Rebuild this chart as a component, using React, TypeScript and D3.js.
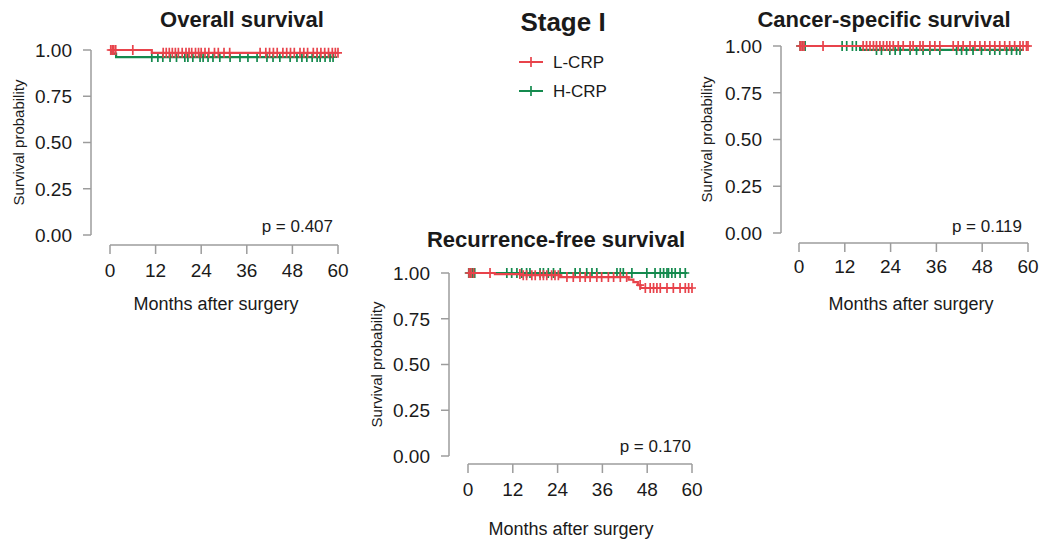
import React from "react";
import * as d3 from "d3";

// ---- groups and axes ----
const groupNames = ["L-CRP", "H-CRP"];
const groupColors = ["#E8434B", "#148A4E"];
const monthTicks = [0, 12, 24, 36, 48, 60];
const probTicks = [0, 0.25, 0.5, 0.75, 1];

// ---- Overall survival ----
const osLowSteps: [number, number][] = [[0, 1], [11, 0.985]];
const osLowEnd = 60;
const osLowCensor = [0.2, 0.6, 1.0, 1.5, 6.0, 14, 14.8, 15.6, 16.4, 17.2, 18, 19, 20, 20.8, 21.5, 22.5, 23.3, 24, 25, 26, 27.5, 28.5, 30, 31.5, 39.5, 41, 42, 43, 44, 45.5, 46.5, 47.5, 48.5, 50, 51, 52, 53.5, 54.5, 55.5, 56.5, 57.5, 58.5, 59.3, 60];
const osHighSteps: [number, number][] = [[0, 1], [0.6, 0.98], [1.6, 0.962]];
const osHighEnd = 58.7;
const osHighCensor = [11, 12.6, 13.9, 15.8, 17.5, 19.7, 20.5, 21.8, 23.7, 24.5, 25.8, 27.1, 28.9, 31.6, 34.2, 36.3, 38.7, 41.3, 42.9, 44.7, 47.4, 49.2, 50.5, 51.8, 53.2, 54.5, 55.3, 56.6, 57.9, 58.7];
const osPValue = "p = 0.407";

// ---- Recurrence-free survival ----
const rfsLowSteps: [number, number][] = [[0, 1], [7.2, 0.994], [14.5, 0.988], [24.7, 0.978], [43, 0.964], [44.3, 0.95], [45.5, 0.934], [46.2, 0.918]];
const rfsLowEnd = 60;
const rfsLowCensor = [0.3, 0.8, 1.5, 5.9, 13.9, 14.8, 15.7, 17.1, 18, 19.3, 20.2, 21.1, 22.4, 23.3, 24.2, 26.5, 28.2, 30, 31.4, 32.7, 34.5, 35.8, 37.6, 39, 40.8, 42.5, 46.1, 47.5, 48.8, 49.7, 50.6, 51.5, 53.3, 55, 56.8, 58.2, 59.1, 60];
const rfsHighSteps: [number, number][] = [[0, 1]];
const rfsHighEnd = 58.7;
const rfsHighCensor = [0.2, 0.7, 1.2, 1.8, 10.4, 11.7, 13.1, 14.4, 15.7, 16.6, 19.3, 20.2, 21.5, 22.9, 24.7, 28.7, 30, 31.8, 33.2, 34.5, 39.9, 40.8, 41.6, 43.9, 47.9, 50.1, 51.5, 52.4, 53.3, 53.7, 54.6, 55.5, 56.8, 58.2];
const rfsPValue = "p = 0.170";

// ---- Cancer-specific survival ----
const cssLowSteps: [number, number][] = [[0, 1]];
const cssLowEnd = 60;
const cssLowCensor = [0.3, 0.8, 1.3, 6.3, 16.8, 17.7, 18.6, 19.5, 20.3, 21.2, 22.1, 23, 23.8, 24.7, 26, 27.3, 29.1, 29.9, 31.7, 32.5, 34.3, 35.6, 36.9, 40.4, 41.7, 43, 44.8, 46.1, 47.4, 48.7, 50, 51.3, 52.6, 53.9, 55.2, 56.5, 57.9, 58.7, 59.6, 60];
const cssHighSteps: [number, number][] = [[0, 1], [16, 0.979]];
const cssHighEnd = 58.5;
const cssHighCensor = [0.3, 0.9, 1.6, 11.3, 12.5, 14, 15, 20.3, 21.6, 23.8, 25.2, 26.5, 29.1, 30.8, 32.5, 34.3, 36.9, 41.3, 42.6, 43.9, 45.6, 47.8, 50, 51.3, 52.6, 54.4, 55.7, 57, 57.9];
const cssPValue = "p = 0.119";

type Curve = { steps: [number, number][]; end: number; censor: number[] };

interface PanelLayout {
  title: string;
  pValue: string;
  curves: Curve[];
  xRange: [number, number];
  yRange: [number, number];
  axisX: number;
  axisY: number;
  titleX: number;
  titleY: number;
  tickLabelY: number;
  xlabX: number;
  xlabY: number;
  ylabX: number;
  pRight: number;
  pY: number;
}

const FONT = "'Liberation Sans', Arial, Helvetica, sans-serif";
const AXIS_COLOR = "#9c9c9c";
const TEXT_COLOR = "#1a1a1a";

const panels: PanelLayout[] = [
  {
    title: "Overall survival",
    pValue: osPValue,
    curves: [
      { steps: osLowSteps, end: osLowEnd, censor: osLowCensor },
      { steps: osHighSteps, end: osHighEnd, censor: osHighCensor },
    ],
    xRange: [110, 338], yRange: [235, 50],
    axisX: 91, axisY: 245,
    titleX: 242, titleY: 27,
    tickLabelY: 277,
    xlabX: 216, xlabY: 310,
    ylabX: 24,
    pRight: 333, pY: 232,
  },
  {
    title: "Recurrence-free survival",
    pValue: rfsPValue,
    curves: [
      { steps: rfsLowSteps, end: rfsLowEnd, censor: rfsLowCensor },
      { steps: rfsHighSteps, end: rfsHighEnd, censor: rfsHighCensor },
    ],
    xRange: [468, 692], yRange: [456, 273],
    axisX: 449, axisY: 464,
    titleX: 556, titleY: 247,
    tickLabelY: 496,
    xlabX: 571, xlabY: 535,
    ylabX: 382,
    pRight: 691, pY: 452,
  },
  {
    title: "Cancer-specific survival",
    pValue: cssPValue,
    curves: [
      { steps: cssLowSteps, end: cssLowEnd, censor: cssLowCensor },
      { steps: cssHighSteps, end: cssHighEnd, censor: cssHighCensor },
    ],
    xRange: [799, 1028], yRange: [233, 46],
    axisX: 781, axisY: 243,
    titleX: 884, titleY: 27,
    tickLabelY: 273,
    xlabX: 911, xlabY: 310,
    ylabX: 712,
    pRight: 1022, pY: 232,
  },
];

function survAt(steps: [number, number][], t: number): number {
  let s = 1;
  for (const [time, v] of steps) if (time <= t) s = v;
  return s;
}

function CensorMark({ x, y, color }: { x: number; y: number; color: string }) {
  return (
    <path d={`M${x - 4},${y}H${x + 4}M${x},${y - 5}V${y + 5}`} stroke={color} strokeWidth={1.7} fill="none" />
  );
}

function Panel({ p }: { p: PanelLayout }) {
  const x = d3.scaleLinear().domain([0, 60]).range(p.xRange);
  const y = d3.scaleLinear().domain([0, 1]).range(p.yRange);
  const line = d3
    .line<[number, number]>()
    .x((d) => x(d[0]))
    .y((d) => y(d[1]))
    .curve(d3.curveStepAfter);
  const ylabY = (p.yRange[0] + p.yRange[1]) / 2;

  return (
    <g fontFamily={FONT} fill={TEXT_COLOR}>
      <text x={p.titleX} y={p.titleY} textAnchor="middle" fontSize={22} fontWeight="bold">
        {p.title}
      </text>

      {/* y axis */}
      <line x1={p.axisX} x2={p.axisX} y1={y(0)} y2={y(1)} stroke={AXIS_COLOR} strokeWidth={1.5} />
      {probTicks.map((t) => (
        <g key={t}>
          <line x1={p.axisX - 8} x2={p.axisX} y1={y(t)} y2={y(t)} stroke={AXIS_COLOR} strokeWidth={1.5} />
          <text x={p.axisX - 19} y={y(t) + 6.8} textAnchor="end" fontSize={19}>
            {d3.format(".2f")(t)}
          </text>
        </g>
      ))}
      <text
        transform={`translate(${p.ylabX},${ylabY}) rotate(-90)`}
        textAnchor="middle"
        fontSize={15}
      >
        Survival probability
      </text>

      {/* x axis */}
      <line x1={x(0)} x2={x(60)} y1={p.axisY} y2={p.axisY} stroke={AXIS_COLOR} strokeWidth={1.5} />
      {monthTicks.map((t) => (
        <g key={t}>
          <line x1={x(t)} x2={x(t)} y1={p.axisY} y2={p.axisY + 9} stroke={AXIS_COLOR} strokeWidth={1.5} />
          <text x={x(t)} y={p.tickLabelY} textAnchor="middle" fontSize={19}>
            {t}
          </text>
        </g>
      ))}
      <text x={p.xlabX} y={p.xlabY} textAnchor="middle" fontSize={18}>
        Months after surgery
      </text>

      <text x={p.pRight} y={p.pY} textAnchor="end" fontSize={17}>
        {p.pValue}
      </text>

      {/* survival curves, drawn H-CRP first so L-CRP sits on top */}
      {[1, 0].map((gi) => {
        const c = p.curves[gi];
        const pts: [number, number][] = [...c.steps, [c.end, survAt(c.steps, c.end)]];
        return (
          <g key={gi}>
            <path d={line(pts) ?? ""} stroke={groupColors[gi]} strokeWidth={2.2} fill="none" />
            {c.censor.map((t, i) => (
              <CensorMark key={i} x={x(t)} y={y(survAt(c.steps, t))} color={groupColors[gi]} />
            ))}
          </g>
        );
      })}
    </g>
  );
}

function Legend() {
  const rows = [62, 91];
  return (
    <g fontFamily={FONT} fill={TEXT_COLOR}>
      <text x={563} y={31} textAnchor="middle" fontSize={26} fontWeight="bold">
        Stage I
      </text>
      {groupNames.map((name, i) => (
        <g key={name}>
          <line x1={519} x2={543} y1={rows[i]} y2={rows[i]} stroke={groupColors[i]} strokeWidth={2} />
          <CensorMark x={531} y={rows[i]} color={groupColors[i]} />
          <text x={553} y={rows[i] + 6} fontSize={17}>
            {name}
          </text>
        </g>
      ))}
    </g>
  );
}

export default function App() {
  return (
    <svg
      width={1046}
      height={539}
      viewBox="0 0 1046 539"
      style={{ position: "absolute", left: 0, top: 0, background: "#fff" }}
    >
      <rect width={1046} height={539} fill="#fff" />
      {panels.map((p) => (
        <Panel key={p.title} p={p} />
      ))}
      <Legend />
    </svg>
  );
}
